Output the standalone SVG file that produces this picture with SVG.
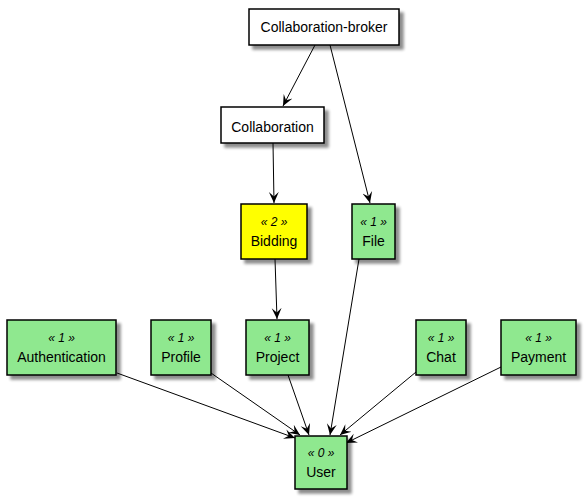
<svg xmlns="http://www.w3.org/2000/svg" width="586" height="499" viewBox="0 0 586 499">
<style>
.n{stroke:#000;stroke-width:1.5;filter:url(#sh)}
.w{fill:#fff}
.g{fill:#8fe88f}
.y{fill:#ffff00}
text{font-family:"Liberation Sans",Arial,sans-serif;font-size:14px;text-anchor:middle;fill:#000}
.st{font-style:italic;font-size:12px}
.e{stroke:#000;stroke-width:1;fill:none;marker-end:url(#ah)}
</style>
<defs>
<filter id="sh" x="-20%" y="-20%" width="150%" height="150%">
<feGaussianBlur in="SourceAlpha" stdDeviation="1.5"/>
<feOffset dx="4" dy="4" result="b"/>
<feComponentTransfer><feFuncA type="linear" slope="0.45"/></feComponentTransfer>
<feMerge><feMergeNode/><feMergeNode in="SourceGraphic"/></feMerge>
</filter>
<marker id="ah" viewBox="0 0 10 10" refX="10" refY="5" markerWidth="11" markerHeight="11" markerUnits="userSpaceOnUse" orient="auto">
<path d="M0,0.5 L10,5 L0,9.5 L4,5 Z" fill="#000"/>
</marker>
</defs>
<g id="connectors">
<path class="e" d="M315,45 L283,106"/>
<path class="e" d="M330,45 L370,203"/>
<path class="e" d="M273,143 L274,203"/>
<path class="e" d="M275,259 L277,319"/>
<path class="e" d="M359,259 L330,435"/>
<path class="e" d="M117,373 L295,438"/>
<path class="e" d="M211,373 L300,435"/>
<path class="e" d="M288,375 L309,435"/>
<path class="e" d="M416,372 L340,435"/>
<path class="e" d="M501,367 L346,443"/>
</g>
<g id="collaboration-broker"><rect class="n w" x="249" y="9" width="150" height="36"/><text x="324" y="32">Collaboration-broker</text></g>
<g id="collaboration"><rect class="n w" x="221" y="107" width="103" height="36"/><text x="272.5" y="132">Collaboration</text></g>
<g id="bidding"><rect class="n y" x="241" y="204" width="66" height="55"/><text class="st" x="274" y="226">« 2 »</text><text x="274" y="246">Bidding</text></g>
<g id="file"><rect class="n g" x="352" y="204" width="43" height="55"/><text class="st" x="373.5" y="226">« 1 »</text><text x="373.5" y="246">File</text></g>
<g id="authentication"><rect class="n g" x="7" y="320" width="109" height="55"/><text class="st" x="61.5" y="342">« 1 »</text><text x="61.5" y="362">Authentication</text></g>
<g id="profile"><rect class="n g" x="151" y="320" width="60" height="55"/><text class="st" x="181" y="342">« 1 »</text><text x="181" y="362">Profile</text></g>
<g id="project"><rect class="n g" x="246" y="320" width="63" height="55"/><text class="st" x="277.5" y="342">« 1 »</text><text x="277.5" y="362">Project</text></g>
<g id="chat"><rect class="n g" x="416" y="320" width="50" height="55"/><text class="st" x="441" y="342">« 1 »</text><text x="441" y="362">Chat</text></g>
<g id="payment"><rect class="n g" x="501" y="320" width="75" height="55"/><text class="st" x="538.5" y="342">« 1 »</text><text x="538.5" y="362">Payment</text></g>
<g id="user"><rect class="n g" x="295" y="436" width="52" height="53"/><text class="st" x="321" y="457">« 0 »</text><text x="321" y="477">User</text></g>
</svg>
